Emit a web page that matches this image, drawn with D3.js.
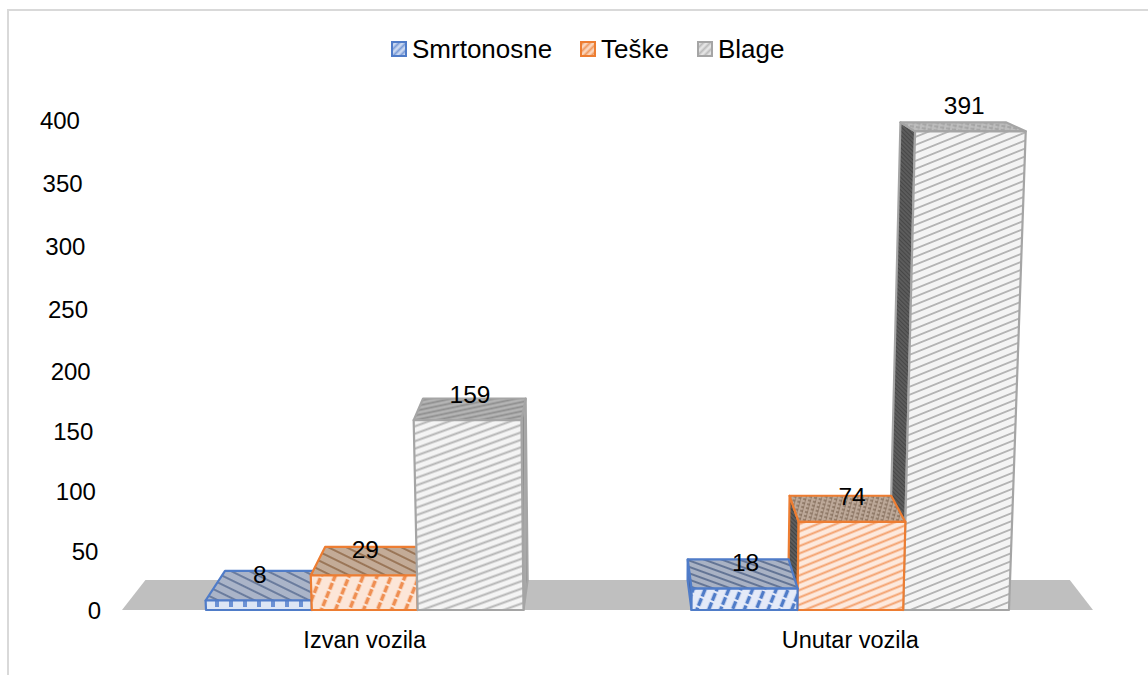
<!DOCTYPE html>
<html><head><meta charset="utf-8">
<script src="https://cdn.jsdelivr.net/npm/d3@7/dist/d3.min.js"></script>
<style>
html,body{margin:0;padding:0;background:#fff;overflow:hidden}
text{font-family:"Liberation Sans",Arial,sans-serif;fill:#000}
</style></head><body>
<svg id="c" width="1148" height="675"></svg>
<script>
const categories = ["Izvan vozila", "Unutar vozila"];
const seriesNames = ["Smrtonosne", "Teške", "Blage"];
const smrtonosne = [8, 18];
const teske = [29, 74];
const blage = [159, 391];
const seriesValues = [smrtonosne, teske, blage];
const yTicks = [0, 50, 100, 150, 200, 250, 300, 350, 400];

const lineColors = ["#4f7bc8", "#ed7d31", "#a5a5a5"];
// pattern styles: [background, stroke, angle, spacing, width, dash, cross]
const frontStyles = [
  [["#dce6f5", "#6a91d4", 90, 14, 4, "7 3"], ["#e4eaf8", "#4f7bc8", -68, 11, 3.5, "8 2"]],
  [["#fce6d8", "#ef8f52", -68, 13, 3.6, "7 2"], ["#fde9dd", "#f3a06c", -22, 6.8, 1.9]],
  [["#f4f4f4", "#b4b4b4", -20, 7, 1.9], ["#f4f4f4", "#b4b4b4", -22, 7.4, 2]]
];
const topStyles = [
  [["#aab4c8", "#55688f", 26, 8, 1.6], ["#a9b2c4", "#4d5f85", 20, 6, 1.6]],
  [["#c3ab97", "#8d6443", 26, 8, 1.6], ["#bca898", "#86705d", 15, 4, 1.5, "3 2", true]],
  [["#b4b4b4", "#8f8f8f", -12, 4.5, 1.6], ["#bdbdbd", "#a0a0a0", 10, 4, 1.5, "4 2", true]]
];
const sideStyles = [
  [["#8ea3c8", "#4f6ea8", 90, 4, 1.5], ["#5d74a5", "#3e5688", 90, 4, 1.5]],
  [["#8a6a50", "#6f5240", 90, 4, 1.5], ["#5b5b5b", "#444", 45, 3, 1.2]],
  [["#a9a9a9", "#8f8f8f", 90, 3, 1.2], ["#5c5c5c", "#474747", 45, 3, 1.2]]
];
const legendStyles = [
  ["#c9d7f0", "#7d9dd8", -45, 5, 2],
  ["#fad5bc", "#f09a60", -45, 5, 2],
  ["#e4e4e4", "#bcbcbc", -45, 5, 2]
];

const svg = d3.select("#c");
const defs = svg.append("defs");
defs.append("filter").attr("id", "soft").attr("x", "-5%").attr("y", "-5%").attr("width", "110%").attr("height", "110%")
  .append("feGaussianBlur").attr("stdDeviation", 0.45);
let pid = 0;
function pattern(s) {
  const [bg, stroke, angle, gap, w, dash, cross] = s;
  const id = "p" + (pid++);
  const L = dash ? dash.split(" ").reduce((a, b) => a + (+b), 0) : 40;
  const p = defs.append("pattern").attr("id", id).attr("patternUnits", "userSpaceOnUse")
    .attr("width", L).attr("height", gap).attr("patternTransform", `rotate(${angle})`);
  p.append("rect").attr("width", L).attr("height", gap).attr("fill", bg);
  const l = p.append("line").attr("x1", 0).attr("x2", L).attr("y1", gap / 2).attr("y2", gap / 2)
    .attr("stroke", stroke).attr("stroke-width", w);
  if (dash) l.attr("stroke-dasharray", dash);
  if (cross) p.append("line").attr("x1", L / 2).attr("x2", L / 2).attr("y1", 0).attr("y2", gap)
    .attr("stroke", stroke).attr("stroke-width", 1).attr("opacity", .6);
  return `url(#${id})`;
}

// frame
svg.append("line").attr("x1", 8).attr("x2", 8).attr("y1", 10).attr("y2", 675).attr("stroke", "#d9d9d9").attr("stroke-width", 2);
svg.append("line").attr("x1", 7).attr("x2", 1148).attr("y1", 10).attr("y2", 10).attr("stroke", "#d9d9d9").attr("stroke-width", 2);

// scales
const x0 = d3.scaleBand().domain(categories).range([122, 1093]);
const x1 = d3.scaleBand().domain(seriesNames).range([84, x0.bandwidth() - 84]);
const y = d3.scaleLinear().domain([0, 100, 200, 300, 400]).range([610, 491, 371, 246, 120]);
const base = y(0);

// perspective of the 3D view
const leanCx = 640, leanK = 0.0000947;
const vpX = 610, vpY = -73, depthX = 0.048, depthY = 0.044;
const front = (xb, py) => [xb + (xb - leanCx) * leanK * (base - py), py];
const back = p => [p[0] + (vpX - p[0]) * depthX, p[1] + (vpY - p[1]) * depthY];
const poly = pts => pts.map(p => p.map(v => v.toFixed(2)).join(",")).join(" ");

// floor
const fl = x0.range()[0], fr = x0.range()[1];
svg.append("polygon").attr("fill", "#bfbfbf")
  .attr("points", poly([[fl, base], back([fl, base]), back([fr, base]), [fr, base]]));

// bars
const bars = [];
categories.forEach((c, ci) => seriesNames.forEach((s, si) => {
  const xl = x0(c) + x1(s), xr = xl + x1.bandwidth();
  bars.push({ c, ci, s, si, v: seriesValues[si][ci], xl, xr });
}));
bars.sort((a, b) => Math.abs((b.xl + b.xr) / 2 - vpX) - Math.abs((a.xl + a.xr) / 2 - vpX));

const g = svg.append("g").attr("stroke-width", 2.2).attr("stroke-linejoin", "round").attr("filter", "url(#soft)");
bars.forEach(b => {
  const t = y(b.v), col = lineColors[b.si];
  const fTL = front(b.xl, t), fTR = front(b.xr, t), fBL = front(b.xl, base), fBR = front(b.xr, base);
  const leftOfVp = (b.xl + b.xr) / 2 < vpX;
  const sf = leftOfVp ? [fTR, back(fTR), back(fBR), fBR] : [fTL, back(fTL), back(fBL), fBL];
  g.append("polygon").attr("points", poly(sf)).attr("fill", pattern(sideStyles[b.si][b.ci])).attr("stroke", col);
  g.append("polygon").attr("points", poly([fTL, back(fTL), back(fTR), fTR])).attr("fill", pattern(topStyles[b.si][b.ci])).attr("stroke", col);
  g.append("polygon").attr("points", poly([fTL, fTR, fBR, fBL])).attr("fill", pattern(frontStyles[b.si][b.ci])).attr("stroke", col);
});

// value labels
bars.forEach(b => {
  const t = y(b.v), cx = (b.xl + b.xr) / 2;
  svg.append("text").attr("text-anchor", "middle").attr("font-size", 24.5)
    .attr("x", cx + (cx - leanCx) * leanK * (base - t) / 2 + 1)
    .attr("y", t - 26).attr("dy", ".36em").text(b.v);
});

// y axis
const yAxis = svg.append("g").call(d3.axisLeft(y).tickValues(yTicks).tickSize(0));
yAxis.select(".domain").remove();
yAxis.attr("font-family", null);
yAxis.selectAll(".tick text").attr("font-size", 24)
  .attr("x", d => 101 - (base - y(d)) * 0.043).attr("dy", ".36em").attr("text-anchor", "end");

// x axis
const xAxis = svg.append("g").attr("transform", "translate(0,640)").call(d3.axisBottom(x0).tickSize(0));
xAxis.select(".domain").remove();
xAxis.attr("font-family", null);
xAxis.selectAll(".tick text").attr("font-size", 23.5).attr("y", 0).attr("dy", ".36em");

// legend
const legX = [391, 580, 697];
seriesNames.forEach((s, i) => {
  svg.append("rect").attr("x", legX[i] + 1).attr("y", 42).attr("width", 14).attr("height", 14)
    .attr("fill", pattern(legendStyles[i])).attr("stroke", lineColors[i]).attr("stroke-width", 2);
  svg.append("text").attr("x", legX[i] + 21).attr("y", 58).attr("font-size", 26).text(s);
});
</script>
</body></html>
